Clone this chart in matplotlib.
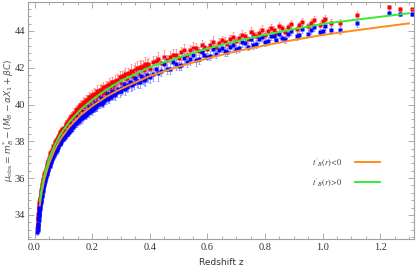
import matplotlib
matplotlib.use("Agg")
import matplotlib.pyplot as plt
from matplotlib.ticker import MultipleLocator

# Supernova redshifts
z = [0.010, 0.011, 0.012, 0.013, 0.014, 0.015, 0.016, 0.017, 0.018, 0.019,
     0.020, 0.021, 0.022, 0.023, 0.024, 0.025, 0.026, 0.027, 0.028, 0.029,
     0.030, 0.032, 0.033, 0.035, 0.036, 0.038, 0.040, 0.042, 0.044, 0.046,
     0.048, 0.050, 0.052, 0.055, 0.057, 0.060, 0.062, 0.065, 0.068, 0.070,
     0.073, 0.075, 0.078, 0.080, 0.083, 0.085, 0.088, 0.090, 0.093, 0.095,
     0.098,
     0.105, 0.110, 0.115, 0.120, 0.125, 0.130, 0.135, 0.140, 0.145, 0.150,
     0.155, 0.160, 0.165, 0.170, 0.175, 0.180, 0.185, 0.190, 0.195, 0.200,
     0.205, 0.210, 0.215, 0.220, 0.225, 0.230, 0.235, 0.240, 0.245, 0.250,
     0.255, 0.260, 0.265, 0.270, 0.275, 0.280, 0.290, 0.300, 0.310, 0.320,
     0.330, 0.340, 0.350, 0.360, 0.370, 0.380, 0.390, 0.400,
     0.42, 0.44, 0.45, 0.46, 0.48, 0.50, 0.52, 0.53, 0.55, 0.57,
     0.58, 0.60, 0.62, 0.63, 0.65, 0.67, 0.69, 0.70, 0.72, 0.74,
     0.75, 0.77, 0.79, 0.80, 0.82, 0.84, 0.85, 0.87, 0.89, 0.91,
     0.93, 0.95, 0.97, 0.99, 1.01, 1.03,
     1.06, 1.12, 1.23, 1.27, 1.31,
     0.0105, 0.0125, 0.0145, 0.0165, 0.0185, 0.0215, 0.0245, 0.031, 0.034, 0.037,
     0.043, 0.047, 0.053, 0.058, 0.063, 0.067, 0.072, 0.077, 0.082, 0.087,
     0.092, 0.097,
     0.102, 0.108, 0.113, 0.118, 0.123, 0.128, 0.133, 0.138, 0.143, 0.148,
     0.153, 0.158, 0.163, 0.168, 0.173, 0.178, 0.183, 0.188, 0.193, 0.198,
     0.208, 0.218, 0.228, 0.238, 0.248, 0.258, 0.268, 0.278, 0.285, 0.295,
     0.305, 0.315, 0.325, 0.335, 0.345, 0.355, 0.365, 0.375, 0.385, 0.395,
     0.41, 0.43, 0.47, 0.49, 0.51, 0.54, 0.56, 0.59, 0.61, 0.64,
     0.66, 0.68, 0.71, 0.73, 0.76, 0.78, 0.81, 0.83, 0.86, 0.88,
     0.92, 0.96, 1.00]

# Distance modulus, blue sample
mu_blue = [33.05, 33.30, 33.45, 33.80, 33.72, 34.10, 34.02, 34.40, 34.30, 34.62,
           34.55, 34.85, 34.78, 35.05, 34.92, 35.25, 35.10, 35.40, 35.28, 35.55,
           35.42, 35.80, 35.62, 35.98, 35.85, 36.18, 36.05, 36.40, 36.28, 36.60,
           36.45, 36.78, 36.65, 37.00, 36.85, 37.20, 37.05, 37.38, 37.25, 37.55,
           37.42, 37.70, 37.55, 37.85, 37.70, 37.98, 37.85, 38.12, 37.98, 38.25,
           38.10,
           38.30, 38.55, 38.48, 38.70, 38.62, 38.95, 38.80, 39.05, 38.98, 39.30,
           39.10, 39.38, 39.25, 39.60, 39.40, 39.62, 39.55, 39.88, 39.65, 39.92,
           39.75, 40.10, 39.85, 40.15, 40.02, 40.35, 40.05, 40.30, 40.22, 40.55,
           40.30, 40.58, 40.42, 40.75, 40.50, 40.70, 40.85, 40.72, 41.10, 40.95,
           41.20, 41.05, 41.45, 41.20, 41.55, 41.35, 41.60, 41.50,
           41.95, 41.80, 42.20, 41.95, 42.30, 42.10, 42.55, 42.30, 42.70, 42.45,
           42.85, 42.60, 43.00, 42.75, 43.10, 42.85, 43.25, 43.00, 43.40, 43.15,
           43.55, 43.30, 43.65, 43.40, 43.75, 43.50, 43.85, 43.55, 44.00, 43.70,
           44.10, 43.85, 44.20, 43.95, 44.25, 44.05,
           44.05, 44.44, 45.00, 44.93, 44.93,
           33.20, 33.50, 33.95, 34.15, 34.45, 34.70, 35.05, 35.50, 35.75, 35.95,
           36.20, 36.50, 36.75, 36.95, 37.15, 37.30, 37.45, 37.60, 37.75, 37.90,
           38.05, 38.15,
           38.20, 38.35, 38.40, 38.50, 38.65, 38.70, 38.85, 38.90, 39.00, 39.05,
           39.20, 39.20, 39.35, 39.35, 39.50, 39.45, 39.65, 39.60, 39.75, 39.70,
           39.90, 39.95, 40.10, 40.15, 40.35, 40.40, 40.55, 40.55, 40.70, 40.75,
           40.90, 40.85, 41.05, 41.10, 41.15, 41.30, 41.25, 41.45, 41.40, 41.55,
           41.65, 41.70, 41.95, 42.20, 42.15, 42.45, 42.40, 42.70, 42.65, 42.95,
           42.90, 43.15, 43.10, 43.35, 43.25, 43.55, 43.45, 43.70, 43.60, 43.85,
           43.80, 44.05, 44.00]

# Distance modulus, red sample
mu_red = [33.30, 33.55, 33.80, 34.05, 34.00, 34.40, 34.30, 34.70, 34.60, 34.90,
          34.85, 35.15, 35.05, 35.35, 35.25, 35.55, 35.40, 35.70, 35.60, 35.85,
          35.75, 36.10, 35.95, 36.30, 36.20, 36.50, 36.40, 36.75, 36.60, 36.95,
          36.80, 37.10, 37.00, 37.35, 37.20, 37.55, 37.40, 37.75, 37.60, 37.90,
          37.80, 38.05, 37.90, 38.20, 38.10, 38.35, 38.25, 38.50, 38.35, 38.60,
          38.50,
          38.70, 38.90, 38.90, 39.10, 39.05, 39.35, 39.25, 39.45, 39.45, 39.70,
          39.55, 39.80, 39.70, 40.00, 39.85, 40.05, 40.00, 40.30, 40.10, 40.35,
          40.20, 40.55, 40.30, 40.60, 40.45, 40.80, 40.50, 40.75, 40.65, 41.00,
          40.75, 41.00, 40.85, 41.20, 40.95, 41.15, 41.30, 41.15, 41.55, 41.40,
          41.65, 41.50, 41.90, 41.65, 42.00, 41.80, 42.05, 41.95,
          42.35, 42.25, 42.60, 42.40, 42.70, 42.55, 42.95, 42.70, 43.10, 42.90,
          43.25, 43.00, 43.40, 43.15, 43.50, 43.30, 43.65, 43.45, 43.80, 43.55,
          43.95, 43.70, 44.05, 43.80, 44.15, 43.90, 44.25, 43.95, 44.40, 44.10,
          44.50, 44.25, 44.60, 44.35, 44.65, 44.45,
          44.44, 44.88, 45.30, 45.20, 45.17,
          33.45, 33.90, 34.20, 34.55, 34.80, 35.10, 35.45, 35.95, 36.20, 36.35,
          36.65, 36.90, 37.20, 37.40, 37.60, 37.70, 37.95, 38.05, 38.25, 38.40,
          38.55, 38.65,
          38.75, 38.95, 39.05, 39.15, 39.25, 39.40, 39.45, 39.55, 39.70, 39.75,
          39.85, 39.95, 40.00, 40.10, 40.15, 40.25, 40.25, 40.40, 40.40, 40.50,
          40.60, 40.75, 40.80, 40.95, 41.00, 41.10, 41.20, 41.30, 41.35, 41.50,
          41.55, 41.65, 41.70, 41.85, 41.85, 42.00, 42.05, 42.10, 42.20, 42.20,
          42.30, 42.45, 42.60, 42.70, 42.85, 42.95, 43.05, 43.15, 43.25, 43.35,
          43.40, 43.55, 43.60, 43.70, 43.85, 43.90, 44.00, 44.05, 44.15, 44.20,
          44.30, 44.45, 44.55]

# Error bars (shared)
err = [0.15, 0.20, 0.12, 0.18, 0.14, 0.22, 0.12, 0.16, 0.20, 0.13,
       0.15, 0.18, 0.12, 0.14, 0.20, 0.13, 0.16, 0.12, 0.18, 0.14,
       0.15, 0.12, 0.17, 0.13, 0.15, 0.12, 0.16, 0.14, 0.12, 0.15,
       0.13, 0.17, 0.12, 0.14, 0.16, 0.12, 0.15, 0.13, 0.18, 0.12,
       0.14, 0.16, 0.12, 0.15, 0.13, 0.17, 0.12, 0.14, 0.16, 0.13,
       0.15,
       0.15, 0.18, 0.14, 0.20, 0.16, 0.15, 0.22, 0.14, 0.18, 0.16,
       0.20, 0.15, 0.24, 0.16, 0.18, 0.22, 0.15, 0.25, 0.18, 0.20,
       0.16, 0.28, 0.18, 0.22, 0.20, 0.30, 0.18, 0.24, 0.20, 0.26,
       0.22, 0.28, 0.20, 0.32, 0.22, 0.25, 0.30, 0.22, 0.35, 0.25,
       0.30, 0.26, 0.38, 0.28, 0.35, 0.30, 0.40, 0.32,
       0.30, 0.25, 0.35, 0.28, 0.30, 0.22, 0.32, 0.25, 0.30, 0.22,
       0.28, 0.20, 0.30, 0.22, 0.25, 0.20, 0.28, 0.22, 0.25, 0.20,
       0.28, 0.22, 0.25, 0.20, 0.22, 0.18, 0.25, 0.20, 0.22, 0.18,
       0.22, 0.18, 0.20, 0.18, 0.22, 0.20,
       0.22, 0.20, 0.12, 0.10, 0.10,
       0.20, 0.18, 0.15, 0.15, 0.14, 0.13, 0.13, 0.12, 0.12, 0.12,
       0.12, 0.13, 0.13, 0.14, 0.14, 0.15, 0.15, 0.15, 0.16, 0.16,
       0.16, 0.17,
       0.18, 0.20, 0.20, 0.22, 0.20, 0.22, 0.20, 0.24, 0.22, 0.25,
       0.22, 0.25, 0.24, 0.26, 0.24, 0.26, 0.25, 0.28, 0.25, 0.28,
       0.28, 0.30, 0.28, 0.30, 0.30, 0.32, 0.30, 0.32, 0.30, 0.32,
       0.30, 0.35, 0.30, 0.35, 0.30, 0.35, 0.35, 0.32, 0.38, 0.35,
       0.35, 0.40, 0.30, 0.30, 0.28, 0.28, 0.28, 0.25, 0.25, 0.25,
       0.25, 0.25, 0.22, 0.22, 0.22, 0.22, 0.20, 0.20, 0.20, 0.20,
       0.20, 0.20, 0.20]

# Model curves
z_curve = [0.018, 0.025, 0.035, 0.05, 0.07, 0.09, 0.12, 0.16, 0.20, 0.25,
           0.30, 0.40, 0.50, 0.60, 0.70, 0.80, 0.90, 1.00, 1.10, 1.20, 1.30]
mu_neg = [34.52, 35.24, 35.99, 36.79, 37.55, 38.12, 38.77, 39.43, 39.92, 40.44,
          40.85, 41.55, 42.06, 42.51, 42.89, 43.22, 43.51, 43.78, 44.00, 44.21, 44.41]
mu_pos = [34.77, 35.49, 36.24, 37.04, 37.80, 38.38, 39.05, 39.73, 40.26, 40.82,
          41.29, 42.03, 42.56, 43.04, 43.44, 43.79, 44.10, 44.38, 44.58, 44.77, 44.96]

x_ticks = [0.0, 0.2, 0.4, 0.6, 0.8, 1.0, 1.2]
y_ticks = [34, 36, 38, 40, 42, 44]

fig = plt.figure(figsize=(4.17, 2.71), dpi=100)
ax = fig.add_axes([0.067, 0.118, 0.926, 0.875])

ax.errorbar(z, mu_blue, yerr=err, fmt='s', ms=2.4, color='#0000ff',
            ecolor='#9090ff', elinewidth=0.6, capsize=1.0, capthick=0.6,
            mec='none', zorder=2)
ax.errorbar(z, mu_red, yerr=err, fmt='s', ms=2.4, color='#ff0000',
            ecolor='#ff9090', elinewidth=0.6, capsize=1.0, capthick=0.6,
            mec='none', zorder=1)

l1, = ax.plot(z_curve, mu_neg, color='#ff8c1a', lw=1.4, zorder=4,
              label=r"$t'_B(r)\!<\!0$")
l2, = ax.plot(z_curve, mu_pos, color='#33ee33', lw=1.4, zorder=5,
              label=r"$t'_B(r)\!>\!0$")

ax.set_xlim(-0.023, 1.318)
ax.set_ylim(32.69, 45.58)
ax.set_xticks(x_ticks)
ax.set_xticklabels([f"{v:.1f}" for v in x_ticks])
ax.set_yticks(y_ticks)
ax.set_yticklabels([str(v) for v in y_ticks])
ax.xaxis.set_minor_locator(MultipleLocator(0.05))
ax.yaxis.set_minor_locator(MultipleLocator(0.4))

for s in ax.spines.values():
    s.set_color('#a0a0a0')
    s.set_linewidth(0.8)
ax.tick_params(which='both', direction='in', top=True, right=True,
               color='#a0a0a0', width=0.6)
ax.tick_params(which='major', length=4)
ax.tick_params(which='minor', length=2)
for lab in ax.get_xticklabels() + ax.get_yticklabels():
    lab.set_fontfamily('Liberation Serif')
    lab.set_fontsize(7.5)
    lab.set_color('#333333')
ax.tick_params(axis='x', pad=3)
ax.tick_params(axis='y', pad=2)

ax.set_xlabel('Redshift z', fontsize=6.5, color='#333333', labelpad=4)
ax.set_ylabel(r"$\mu_{\rm obs} = m^{*}_{B} - (M_B - \alpha X_1 + \beta C)$",
              fontsize=6.5, color='#555555', va='center')
ax.yaxis.set_label_coords(-0.05, 0.5)

leg = ax.legend(handles=[l1, l2], loc='center left',
                bbox_to_anchor=(0.715, 0.28), frameon=False, markerfirst=False,
                handlelength=3.0, handletextpad=1.6, labelspacing=0.9,
                prop={'family': 'Liberation Serif', 'size': 6})
for t in leg.get_texts():
    t.set_math_fontfamily('stix')
    t.set_color('#333333')

fig.savefig('out.png', dpi=100)
